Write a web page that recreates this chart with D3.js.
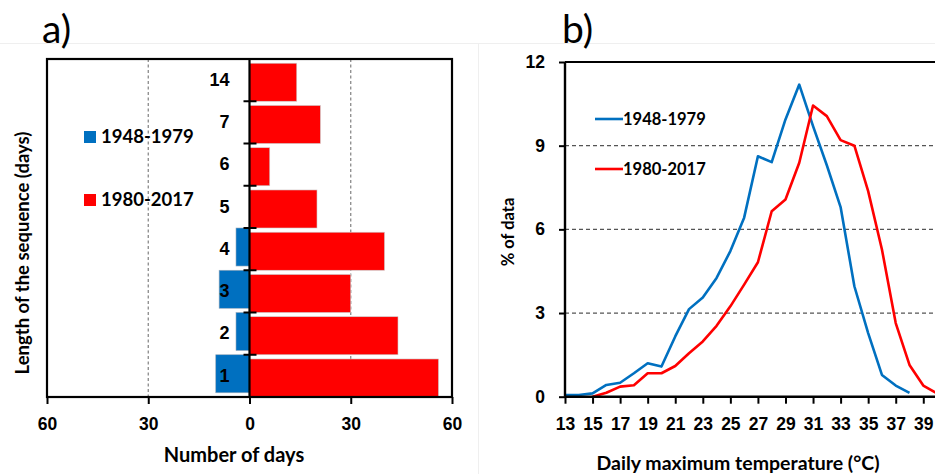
<!DOCTYPE html>
<html>
<head>
<meta charset="utf-8">
<script src="https://cdn.jsdelivr.net/npm/d3@7"></script>
<style>
  body { margin: 0; background: #fff; }
  svg { display: block; font-family: Lato, "Open Sans", sans-serif; }
  .axis .domain { display: none; }
  .axis text { font-weight: bold; fill: #000; }
</style>
</head>
<body>
<svg id="chart" width="935" height="474"></svg>
<script>
// panel a: length of hot sequences
var lengths = ["1", "2", "3", "4", "5", "6", "7", "14"];
var days1948 = [10, 4, 9, 4, 0, 0, 0, 0];
var days1980 = [56, 44, 30, 40, 20, 6, 21, 14];
var daysTicks = [-60, -30, 0, 30, 60];

// panel b: distribution of daily max temperature
var temps = [13, 14, 15, 16, 17, 18, 19, 20, 21, 22, 23, 24, 25, 26, 27, 28, 29, 30, 31, 32, 33, 34, 35, 36, 37, 38, 39, 40];
var pct1948 = [0.06, 0.06, 0.12, 0.42, 0.5, 0.84, 1.2, 1.08, 2.16, 3.14, 3.56, 4.26, 5.22, 6.42, 8.62, 8.41, 9.94, 11.19, 9.7, 8.3, 6.8, 3.96, 2.28, 0.78, 0.4, 0.14, null, null];
var pct1980 = [null, null, 0, 0.14, 0.36, 0.41, 0.84, 0.84, 1.1, 1.56, 1.98, 2.54, 3.24, 4.02, 4.82, 6.65, 7.07, 8.39, 10.44, 10.06, 9.2, 9.0, 7.37, 5.28, 2.64, 1.14, 0.4, 0.12];
var tempTicks = [13, 15, 17, 19, 21, 23, 25, 27, 29, 31, 33, 35, 37, 39];
var pctTicks = [0, 3, 6, 9, 12];

var BLUE = "#0070c0", RED = "#ff0000";

var svg = d3.select("#chart");

// faint panel frames
svg.append("line").attr("x1", 0).attr("x2", 935).attr("y1", 43.5).attr("y2", 43.5)
  .attr("stroke", "#efefef").attr("stroke-width", 1);
svg.append("line").attr("x1", 478.5).attr("x2", 478.5).attr("y1", 43).attr("y2", 474)
  .attr("stroke", "#efefef").attr("stroke-width", 1);

// ---------- panel a ----------
var ax = d3.scaleLinear().domain([-60, 60]).range([47, 452]);
var ay = d3.scaleBand().domain(lengths.slice().reverse()).range([59, 397]);
var bw = ay.bandwidth();

svg.append("text").attr("x", 42).attr("y", 43)
  .attr("font-size", 39).text("a)");

// dashed grid at +-30
svg.append("g").selectAll("line")
  .data([-30, 30])
  .enter().append("line")
    .attr("x1", function(d) { return ax(d); })
    .attr("x2", function(d) { return ax(d); })
    .attr("y1", 59).attr("y2", 397)
    .attr("stroke", "#808080").attr("stroke-width", 1.2)
    .attr("stroke-dasharray", "3,2.5");

var rows = lengths.map(function(l, i) {
  return {len: l, old: days1948[i], recent: days1980[i]};
});

// blue bars (left side, upper part of band)
svg.append("g").selectAll("rect")
  .data(rows.filter(function(d) { return d.old > 0; }))
  .enter().append("rect")
    .attr("x", function(d) { return ax(-d.old); })
    .attr("y", function(d) { return ay(d.len); })
    .attr("width", function(d) { return ax(0) - ax(-d.old); })
    .attr("height", bw * 0.9)
    .attr("fill", BLUE).attr("stroke", "#9ab").attr("stroke-width", 0.6);

// red bars (right side, lower part of band)
svg.append("g").selectAll("rect")
  .data(rows)
  .enter().append("rect")
    .attr("x", ax(0))
    .attr("y", function(d) { return ay(d.len) + bw * 0.1; })
    .attr("width", function(d) { return ax(d.recent) - ax(0); })
    .attr("height", bw * 0.9)
    .attr("fill", RED).attr("stroke", "#ccc").attr("stroke-width", 0.6);

// frame
svg.append("rect").attr("x", 47).attr("y", 59).attr("width", 405).attr("height", 338)
  .attr("fill", "none").attr("stroke", "#000").attr("stroke-width", 2.2);

// central axis
svg.append("line").attr("x1", ax(0)).attr("x2", ax(0)).attr("y1", 59).attr("y2", 397)
  .attr("stroke", "#000").attr("stroke-width", 2.2);

// boundary ticks across the central axis
svg.append("g").selectAll("line")
  .data(lengths.slice(1))
  .enter().append("line")
    .attr("x1", ax(0) - 6).attr("x2", ax(0) + 7)
    .attr("y1", function(d) { return ay(d) + bw; })
    .attr("y2", function(d) { return ay(d) + bw; })
    .attr("stroke", "#000").attr("stroke-width", 2);

// category labels
svg.append("g")
  .attr("class", "axis")
  .attr("transform", "translate(" + ax(0) + ",0)")
  .call(d3.axisLeft(ay).tickSize(0).tickPadding(20))
  .selectAll("text").attr("font-size", 18);

// bottom axis
var axB = svg.append("g")
  .attr("class", "axis")
  .attr("transform", "translate(0,397)")
  .call(d3.axisBottom(ax).tickValues(daysTicks).tickSizeInner(7).tickSizeOuter(0).tickPadding(14)
    .tickFormat(function(d) { return Math.abs(d); }));
axB.selectAll("line").attr("stroke", "#000").attr("stroke-width", 2);
axB.selectAll("text").attr("font-size", 17.5);

svg.append("text").attr("x", 234).attr("y", 462).attr("text-anchor", "middle")
  .attr("font-size", 20).attr("font-weight", "bold").text("Number of days");

svg.append("text").attr("transform", "translate(28.5,253) rotate(-90)").attr("text-anchor", "middle")
  .attr("font-size", 18.5).attr("font-weight", "bold").text("Length of the sequence (days)");

// legend a
var legA = [{label: "1948-1979", color: BLUE, y: 137}, {label: "1980-2017", color: RED, y: 200}];
var la = svg.append("g").selectAll("g").data(legA).enter().append("g");
la.append("rect").attr("x", 84).attr("y", function(d) { return d.y - 6; })
  .attr("width", 12).attr("height", 12).attr("fill", function(d) { return d.color; });
la.append("text").attr("x", 101).attr("y", function(d) { return d.y; }).attr("dy", "0.35em")
  .attr("font-size", 18.5).attr("font-weight", "bold").text(function(d) { return d.label; });

// ---------- panel b ----------
var bx = d3.scaleLinear().domain([13, 42]).range([565, 565 + 29 * 13.78]);
var by = d3.scaleLinear().domain([0, 12]).range([396.7, 62]);

svg.append("text").attr("x", 562).attr("y", 43)
  .attr("font-size", 39).text("b)");

svg.append("g").selectAll("line")
  .data([3, 6, 9])
  .enter().append("line")
    .attr("x1", 565).attr("x2", 935)
    .attr("y1", function(d) { return by(d); })
    .attr("y2", function(d) { return by(d); })
    .attr("stroke", "#555").attr("stroke-width", 1.2)
    .attr("stroke-dasharray", "4,3");

svg.append("line").attr("x1", 565).attr("x2", 935).attr("y1", by(12)).attr("y2", by(12))
  .attr("stroke", "#000").attr("stroke-width", 2.2);

var line = d3.line()
  .defined(function(d) { return d[1] !== null; })
  .x(function(d) { return bx(d[0]); })
  .y(function(d) { return by(d[1]); });

[[pct1948, BLUE], [pct1980, RED]].forEach(function(s) {
  svg.append("path")
    .datum(temps.map(function(t, i) { return [t, s[0][i]]; }))
    .attr("d", line)
    .attr("fill", "none").attr("stroke", s[1]).attr("stroke-width", 2.6)
    .attr("stroke-linejoin", "round");
});

var bAxisY = svg.append("g")
  .attr("class", "axis")
  .attr("transform", "translate(565,0)")
  .call(d3.axisLeft(by).tickValues(pctTicks).tickSizeInner(6).tickSizeOuter(0).tickPadding(14));
bAxisY.selectAll("line").attr("stroke", "#000").attr("stroke-width", 2);
bAxisY.selectAll("text").attr("font-size", 17.5);

var bAxisX = svg.append("g")
  .attr("class", "axis")
  .attr("transform", "translate(0,396.7)")
  .call(d3.axisBottom(bx).tickValues(tempTicks).tickSizeInner(7).tickSizeOuter(0).tickPadding(14));
bAxisX.selectAll("line").attr("stroke", "#000").attr("stroke-width", 2);
bAxisX.selectAll("text").attr("font-size", 17.5);

svg.append("line").attr("x1", 565).attr("x2", 565).attr("y1", 62).attr("y2", 396.7)
  .attr("stroke", "#000").attr("stroke-width", 2.4);
svg.append("line").attr("x1", 565).attr("x2", 935).attr("y1", 396.7).attr("y2", 396.7)
  .attr("stroke", "#000").attr("stroke-width", 2.4);

svg.append("text").attr("x", 738).attr("y", 470).attr("text-anchor", "middle")
  .attr("font-size", 19.5).attr("font-weight", "bold").text("Daily maximum temperature (°C)");

svg.append("text").attr("transform", "translate(514,232) rotate(-90)").attr("text-anchor", "middle")
  .attr("font-size", 16.5).attr("font-weight", "bold").text("% of data");

// legend b
var legB = [{label: "1948-1979", color: BLUE, y: 119}, {label: "1980-2017", color: RED, y: 169}];
var lb = svg.append("g").selectAll("g").data(legB).enter().append("g");
lb.append("line").attr("x1", 595).attr("x2", 623)
  .attr("y1", function(d) { return d.y; }).attr("y2", function(d) { return d.y; })
  .attr("stroke", function(d) { return d.color; }).attr("stroke-width", 2.6);
lb.append("text").attr("x", 623).attr("y", function(d) { return d.y; }).attr("dy", "0.35em")
  .attr("font-size", 16.5).attr("font-weight", "bold").text(function(d) { return d.label; });
</script>
</body>
</html>
